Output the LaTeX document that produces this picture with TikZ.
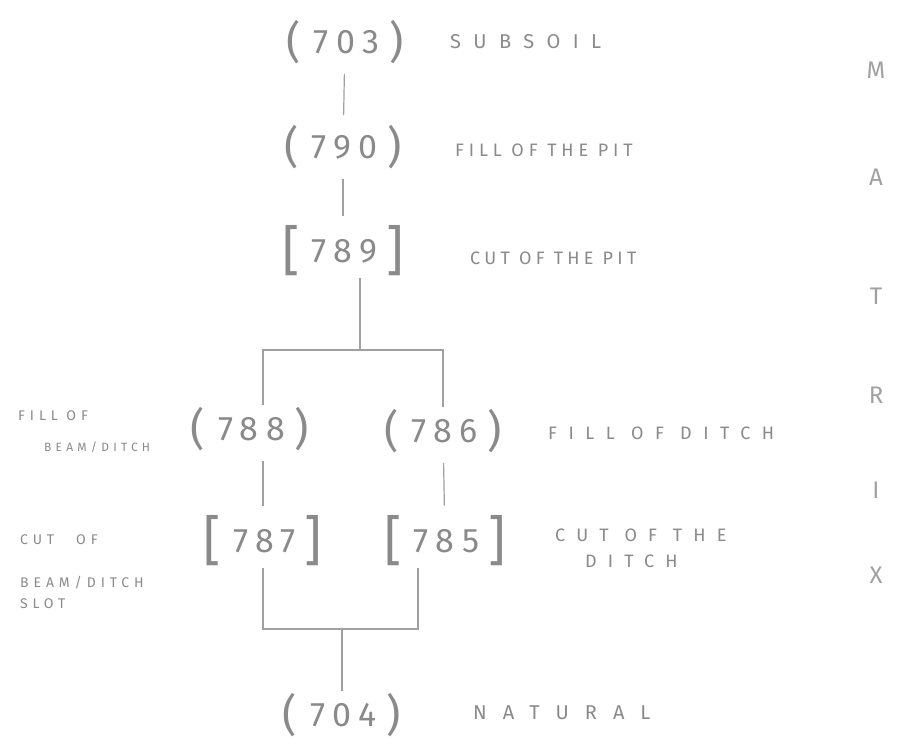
\documentclass[tikz,border=0pt]{standalone}
\usepackage{fontspec}
\setmainfont{Fira Sans}
\usetikzlibrary{positioning}
\definecolor{pencil}{HTML}{8A8A8A}
\definecolor{pencilline}{HTML}{A0A0A0}

\newcommand{\ctxfill}[1]{\raisebox{-4pt}{\fontsize{44}{44}\selectfont(}\hspace{13pt}#1\hspace{10pt}\raisebox{-4pt}{\fontsize{44}{44}\selectfont)}}
\newcommand{\ctxcut}[1]{\raisebox{-7pt}{\fontsize{54}{54}\selectfont[}\hspace{12pt}#1\hspace{9pt}\raisebox{-7pt}{\fontsize{54}{54}\selectfont]}}

\tikzset{
  ctx/.style={text=pencil, inner sep=2pt,
    font=\fontsize{34}{34}\selectfont\addfontfeatures{LetterSpace=22}},
  desc/.style={text=pencil, inner sep=0pt, anchor=west, align=left,
    font=\fontsize{18}{22}\selectfont\addfontfeatures{LetterSpace=#1}},
  desc/.default=27,
  bigdesc/.style={text=pencil, inner sep=0pt, anchor=west,
    font=\fontsize{20}{20}\selectfont\addfontfeatures{LetterSpace=#1}},
  sidelab/.style={text=pencil, inner sep=0pt, align=left, anchor=north west,
    font=\fontsize{14}{19}\selectfont\addfontfeatures{LetterSpace=35}},
  mxletter/.style={text=pencil!80, font=\fontsize{24}{24}\selectfont},
  link/.style={draw=pencilline, line width=1.2pt},
  gap/.style={shorten <=8pt, shorten >=8pt}
}

\begin{document}
\begin{tikzpicture}[x=1pt,y=-1pt]
  \useasboundingbox (0,0) rectangle (912,752);

  % contexts
  \node[ctx] (c703) at (345,42) {\ctxfill{703}};
  \node[ctx] (c790) at (343,147) {\ctxfill{790}};
  \node[ctx] (c789) at (343,251) {\ctxcut{789}};
  \node[ctx] (c788) at (250,429) {\ctxfill{788}};
  \node[ctx] (c786) at (443,431) {\ctxfill{786}};
  \node[ctx] (c787) at (263,541) {\ctxcut{787}};
  \node[ctx] (c785) at (445,541) {\ctxcut{785}};
  \node[ctx] (c704) at (342,715) {\ctxfill{704}};

  % descriptions
  \node[bigdesc=62] (d703) at (450,42) {SUBSOIL};
  \node[desc=27] (d790) at (455,150) {FILL OF THE PIT};
  \node[desc=24] (d789) at (470,258) {CUT OF THE PIT};
  \node[desc=64] (d786) at (548,433) {FILL OF DITCH};
  \node[desc=62] (d785) at (555,548) {CUT OF THE\\[4pt]\hspace*{30pt}DITCH};
  \node[bigdesc=80] (d704) at (473,713) {NATURAL};
  \node[sidelab] (d788) at (18,410) {FILL OF\\[12pt]\hspace*{26pt}{\fontsize{12}{12}\selectfont BEAM/DITCH}};
  \node[sidelab] (d787) at (20,534) {CUT\hspace{22pt}OF\\[24pt]BEAM/DITCH\\[2pt]SLOT};

  % side title
  \foreach \y/\l in {70/M,177/A,296/T,395/R,490/I,575/X}
    \node[mxletter] (mx\l) at (876,\y) {\l};

  % links
  \coordinate (split) at (360,350);
  \coordinate (join) at (342,629);
  \draw[link,gap] (c703) -- (c790);
  \draw[link,gap] (c790) -- (c789);
  \draw[link] (c789.south -| split) -- (split);
  \draw[link] ([xshift=13pt]c788.north) |- (split) -| (c786.north);
  \draw[link,gap] (c788.south -| c787) -- (c787);
  \draw[link,gap] (c786) -- (c785);
  \draw[link] (c787) |- (join) -| ([xshift=-27pt]c785.south);
  \draw[link] (join) -- (c704);
\end{tikzpicture}
\end{document}
